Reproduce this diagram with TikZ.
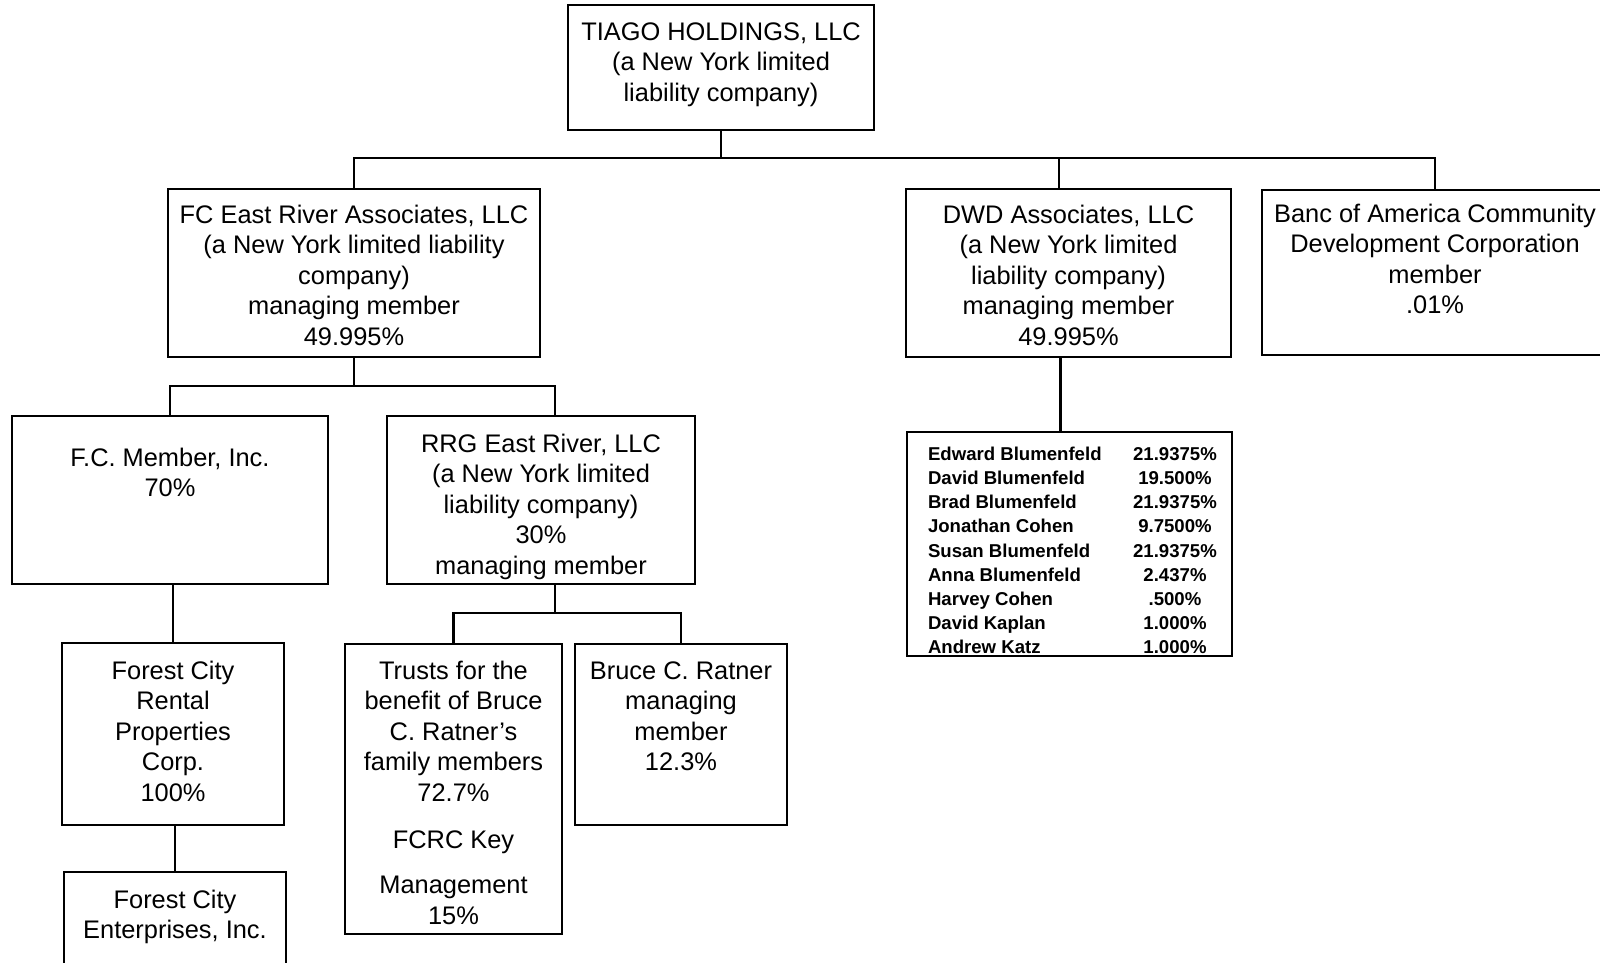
\documentclass[tikz,border=0pt]{standalone}
\usepackage{fontspec}
\setmainfont{Liberation Sans}
\newcommand{\boxtext}[4]{\parbox[c][#2pt][t]{#1pt}{\centering\vspace*{#3pt}\strut#4\par}}
\newcommand{\share}[2]{\hspace*{21pt}\makebox[197pt][l]{#1}\makebox[100pt][c]{#2}}

\begin{document}
\begin{tikzpicture}[
    x=1pt, y=-1pt,
    every node/.style={inner sep=0pt, outer sep=0pt, font=\fontsize{25.4}{30.6}\selectfont},
    orgbox/.style={draw, line width=2.2pt, anchor=north west},
    link/.style={line width=2.2pt}
]
\useasboundingbox (0,0) rectangle (1600,962);

\node[orgbox] (tiago) at (568,5) {\boxtext{306}{125}{13.7}{TIAGO HOLDINGS, LLC\\(a New York limited\\liability company)}};
\node[orgbox] (fceast) at (168,189) {\boxtext{372}{168}{12.7}{FC East River Associates, LLC\\(a New York limited liability\\company)\\managing member\\49.995\%}};
\node[orgbox] (dwd) at (906,189) {\boxtext{325}{168}{12.7}{DWD Associates, LLC\\(a New York limited\\liability company)\\managing member\\49.995\%}};
\node[orgbox] (banc) at (1262,190) {\boxtext{346}{165}{10.7}{Banc of America Community\\Development Corporation\\member\\.01\%}};
\node[orgbox] (fcmember) at (12,416) {\boxtext{316}{168}{28.7}{F.C. Member, Inc.\\70\%}};
\node[orgbox] (rrg) at (387,416) {\boxtext{308}{168}{14.7}{RRG East River, LLC\\(a New York limited\\liability company)\\30\%\\managing member}};
\node[orgbox] (fcrental) at (62,643) {\boxtext{222}{182}{14.7}{Forest City\\Rental\\Properties\\Corp.\\100\%}};
\node[orgbox] (fcent) at (64,872) {\boxtext{222}{110}{14.7}{Forest City\\Enterprises, Inc.}};
\node[orgbox] (trusts) at (345,644) {\boxtext{217}{290}{13.7}{Trusts for the\\benefit of Bruce\\C. Ratner's\\family members\\72.7\%\\[16pt]FCRC Key\\[15pt]Management\\15\%}};
\node[orgbox] (bruce) at (575,644) {\boxtext{212}{181}{13.7}{Bruce C. Ratner\\managing\\member\\12.3\%}};
\node[orgbox, font=\bfseries\fontsize{18.6}{24.1}\selectfont] (members) at (907,432) {\parbox[c][224pt][t]{325pt}{\vspace*{11.8pt}\strut
    \share{Edward Blumenfeld}{21.9375\%}\\
    \share{David Blumenfeld}{19.500\%}\\
    \share{Brad Blumenfeld}{21.9375\%}\\
    \share{Jonathan Cohen}{9.7500\%}\\
    \share{Susan Blumenfeld}{21.9375\%}\\
    \share{Anna Blumenfeld}{2.437\%}\\
    \share{Harvey Cohen}{.500\%}\\
    \share{David Kaplan}{1.000\%}\\
    \share{Andrew Katz}{1.000\%}\par}};

\coordinate (dwdtop) at ([xshift=-9.5pt]dwd.north);
\coordinate (dwdbot) at ([xshift=-8pt]dwd.south);
\coordinate (rrgtop) at ([xshift=14pt]rrg.north);
\coordinate (rrgbot) at ([xshift=14pt]rrg.south);

\draw[link] (tiago.south) -- ++(0,28) coordinate (bar1);
\draw[link] (fceast.north) -- (fceast.north |- bar1) -| (banc.north);
\draw[link] (dwdtop) -- (dwdtop |- bar1);
\draw[link] (dwdbot) -- (dwdbot |- members.north);

\draw[link] (fceast.south) -- ++(0,29) coordinate (bar2);
\draw[link] (fcmember.north) |- (bar2) -| (rrgtop);
\draw[link] (fcrental.north) -- (fcrental.north |- fcmember.south);
\draw[link] (fcent.north) -- (fcent.north |- fcrental.south);

\draw[link] (rrgbot) -- ++(0,29) coordinate (bar3);
\draw[link] (trusts.north) |- (bar3) -| (bruce.north);

\end{tikzpicture}
\end{document}
